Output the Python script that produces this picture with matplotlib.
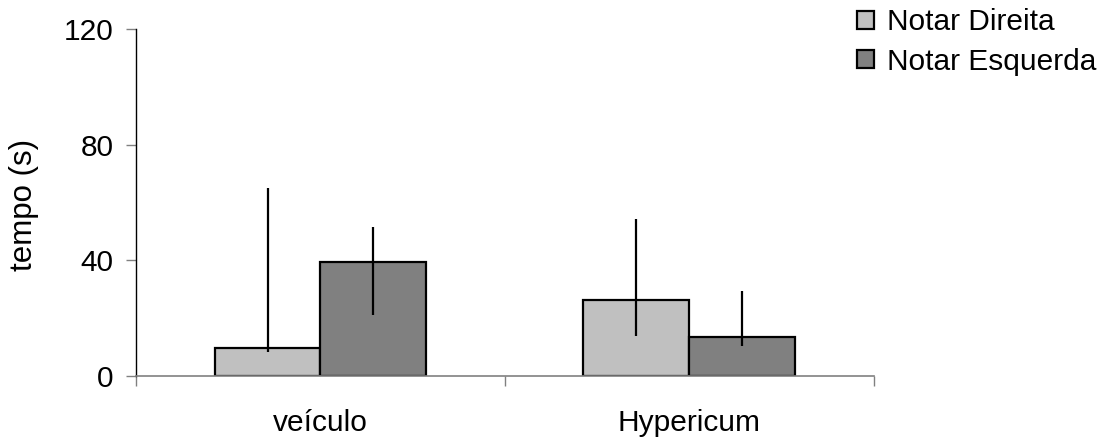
import numpy as np
import matplotlib
matplotlib.use('Agg')
import matplotlib.pyplot as plt

plt.rcParams['font.family'] = ['Liberation Sans', 'DejaVu Sans']

# Data
groups = ['veículo', 'Hypericum']
series = ['Notar Direita', 'Notar Esquerda']
values = {
    'Notar Direita': [9.6, 26.3],
    'Notar Esquerda': [39.4, 13.3],
}
err_low = {
    'Notar Direita': [8.1, 13.7],
    'Notar Esquerda': [21.2, 10.4],
}
err_high = {
    'Notar Direita': [65.1, 54.1],
    'Notar Esquerda': [51.3, 29.2],
}
colors = {'Notar Direita': '#C0C0C0', 'Notar Esquerda': '#808080'}
yticks = [0, 40, 80, 120]

fs = 21.5
fig = plt.figure(figsize=(11.06, 4.37), dpi=100)
ax = fig.add_axes([0.123, 0.140, 0.667, 0.794])

x = np.arange(len(groups))
w = 0.287
for i, s in enumerate(series):
    pos = x + (i - 0.5) * w
    v = np.array(values[s])
    lo = v - np.array(err_low[s])
    hi = np.array(err_high[s]) - v
    ax.bar(pos, v, width=w, color=colors[s], edgecolor='black', linewidth=1.6,
           label=s, zorder=2)
    ax.errorbar(pos, v, yerr=[lo, hi], fmt='none', ecolor='black',
                elinewidth=1.6, capsize=0, zorder=3)

ax.set_xlim(-0.5, 1.5)
ax.set_ylim(0, 120)
ax.set_yticks(yticks)
ax.set_yticklabels([str(t) for t in yticks], fontsize=fs)
ax.tick_params(axis='y', direction='out', length=7, width=1, color='#808080', pad=9)

# category boundary ticks on x axis
ax.set_xticks([-0.5, 0.5, 1.5])
ax.set_xticklabels(['', '', ''])
ax.tick_params(axis='x', direction='out', length=7, width=1, color='#808080')
for xi, g in zip(x, groups):
    ax.text(xi, -0.095, g, transform=ax.get_xaxis_transform(), ha='center',
            va='top', fontsize=fs)

for sp in ['top', 'right']:
    ax.spines[sp].set_visible(False)
ax.spines['left'].set_color('black')
ax.spines['bottom'].set_color('#808080')
ax.spines['left'].set_linewidth(1)
ax.spines['bottom'].set_linewidth(1.2)

fig.text(24 / 1106, 1 - 205 / 437, 'tempo (s)', rotation=90, ha='center',
         va='center', fontsize=22.5)

fig.legend(loc='center left', bbox_to_anchor=(857 / 1106, 1 - 42 / 437),
           frameon=False, fontsize=fs, handlelength=0.57, handleheight=0.57,
           handletextpad=0.43, labelspacing=0.38, borderpad=0, borderaxespad=0)

fig.savefig('out.png', dpi=100)
